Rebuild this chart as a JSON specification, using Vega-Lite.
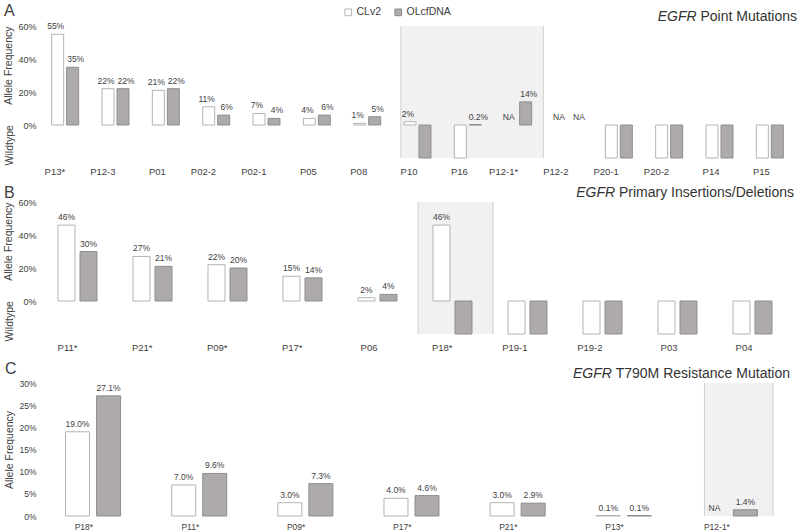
{
  "$schema": "https://vega.github.io/schema/vega-lite/v6.json",
  "background": "white",
  "padding": {"left": 3, "top": 3, "right": 3, "bottom": 0},
  "datasets": {
    "a": [
      {"cat": "P13*", "series": "CLv2", "value": 55, "label": "55%"},
      {"cat": "P13*", "series": "OLcfDNA", "value": 35, "label": "35%"},
      {"cat": "P12-3", "series": "CLv2", "value": 22, "label": "22%"},
      {"cat": "P12-3", "series": "OLcfDNA", "value": 22, "label": "22%"},
      {"cat": "P01", "series": "CLv2", "value": 21, "label": "21%"},
      {"cat": "P01", "series": "OLcfDNA", "value": 22, "label": "22%"},
      {"cat": "P02-2", "series": "CLv2", "value": 11, "label": "11%"},
      {"cat": "P02-2", "series": "OLcfDNA", "value": 6, "label": "6%"},
      {"cat": "P02-1", "series": "CLv2", "value": 7, "label": "7%"},
      {"cat": "P02-1", "series": "OLcfDNA", "value": 4, "label": "4%"},
      {"cat": "P05", "series": "CLv2", "value": 4, "label": "4%"},
      {"cat": "P05", "series": "OLcfDNA", "value": 6, "label": "6%"},
      {"cat": "P08", "series": "CLv2", "value": 1, "label": "1%"},
      {"cat": "P08", "series": "OLcfDNA", "value": 5, "label": "5%"},
      {"cat": "P10", "series": "CLv2", "value": 2, "label": "2%"},
      {"cat": "P10", "series": "OLcfDNA", "value": -20, "label": ""},
      {"cat": "P16", "series": "CLv2", "value": -20, "label": ""},
      {"cat": "P16", "series": "OLcfDNA", "value": 0.2, "label": "0.2%"},
      {"cat": "P12-1*", "series": "CLv2", "value": 0, "label": "NA"},
      {"cat": "P12-1*", "series": "OLcfDNA", "value": 14, "label": "14%"},
      {"cat": "P12-2", "series": "CLv2", "value": 0, "label": "NA"},
      {"cat": "P12-2", "series": "OLcfDNA", "value": 0, "label": "NA"},
      {"cat": "P20-1", "series": "CLv2", "value": -20, "label": ""},
      {"cat": "P20-1", "series": "OLcfDNA", "value": -20, "label": ""},
      {"cat": "P20-2", "series": "CLv2", "value": -20, "label": ""},
      {"cat": "P20-2", "series": "OLcfDNA", "value": -20, "label": ""},
      {"cat": "P14", "series": "CLv2", "value": -20, "label": ""},
      {"cat": "P14", "series": "OLcfDNA", "value": -20, "label": ""},
      {"cat": "P15", "series": "CLv2", "value": -20, "label": ""},
      {"cat": "P15", "series": "OLcfDNA", "value": -20, "label": ""}
    ],
    "b": [
      {"cat": "P11*", "series": "CLv2", "value": 46, "label": "46%"},
      {"cat": "P11*", "series": "OLcfDNA", "value": 30, "label": "30%"},
      {"cat": "P21*", "series": "CLv2", "value": 27, "label": "27%"},
      {"cat": "P21*", "series": "OLcfDNA", "value": 21, "label": "21%"},
      {"cat": "P09*", "series": "CLv2", "value": 22, "label": "22%"},
      {"cat": "P09*", "series": "OLcfDNA", "value": 20, "label": "20%"},
      {"cat": "P17*", "series": "CLv2", "value": 15, "label": "15%"},
      {"cat": "P17*", "series": "OLcfDNA", "value": 14, "label": "14%"},
      {"cat": "P06", "series": "CLv2", "value": 2, "label": "2%"},
      {"cat": "P06", "series": "OLcfDNA", "value": 4, "label": "4%"},
      {"cat": "P18*", "series": "CLv2", "value": 46, "label": "46%"},
      {"cat": "P18*", "series": "OLcfDNA", "value": -20, "label": ""},
      {"cat": "P19-1", "series": "CLv2", "value": -20, "label": ""},
      {"cat": "P19-1", "series": "OLcfDNA", "value": -20, "label": ""},
      {"cat": "P19-2", "series": "CLv2", "value": -20, "label": ""},
      {"cat": "P19-2", "series": "OLcfDNA", "value": -20, "label": ""},
      {"cat": "P03", "series": "CLv2", "value": -20, "label": ""},
      {"cat": "P03", "series": "OLcfDNA", "value": -20, "label": ""},
      {"cat": "P04", "series": "CLv2", "value": -20, "label": ""},
      {"cat": "P04", "series": "OLcfDNA", "value": -20, "label": ""}
    ],
    "c": [
      {"cat": "P18*", "series": "CLv2", "value": 19.0, "label": "19.0%"},
      {"cat": "P18*", "series": "OLcfDNA", "value": 27.1, "label": "27.1%"},
      {"cat": "P11*", "series": "CLv2", "value": 7.0, "label": "7.0%"},
      {"cat": "P11*", "series": "OLcfDNA", "value": 9.6, "label": "9.6%"},
      {"cat": "P09*", "series": "CLv2", "value": 3.0, "label": "3.0%"},
      {"cat": "P09*", "series": "OLcfDNA", "value": 7.3, "label": "7.3%"},
      {"cat": "P17*", "series": "CLv2", "value": 4.0, "label": "4.0%"},
      {"cat": "P17*", "series": "OLcfDNA", "value": 4.6, "label": "4.6%"},
      {"cat": "P21*", "series": "CLv2", "value": 3.0, "label": "3.0%"},
      {"cat": "P21*", "series": "OLcfDNA", "value": 2.9, "label": "2.9%"},
      {"cat": "P13*", "series": "CLv2", "value": 0.1, "label": "0.1%"},
      {"cat": "P13*", "series": "OLcfDNA", "value": 0.1, "label": "0.1%"},
      {"cat": "P12-1*", "series": "CLv2", "value": 0, "label": "NA"},
      {"cat": "P12-1*", "series": "OLcfDNA", "value": 1.4, "label": "1.4%"}
    ]
  },
  "vconcat": [
    {
      "width": 755,
      "height": 132,
      "title": {"text": "A", "offset": -9},
      "data": {"name": "a"},
      "layer": [
        {
          "data": {"values": [{}]},
          "mark": {"type": "rect", "fill": "#000000", "opacity": 0.055},
          "encoding": {
            "x": {"datum": "P10", "type": "nominal", "bandPosition": 0.17, "title": null},
            "x2": {"datum": "P12-1*", "bandPosition": 1},
            "y": {"datum": 60, "type": "quantitative", "axis": null},
            "y2": {"datum": -20}
          }
        },
        {
          "data": {"values": [{}]},
          "mark": {"type": "rule", "color": "#cfcfcf"},
          "encoding": {
            "x": {"datum": "P10", "type": "nominal", "bandPosition": 0.17, "title": null},
            "y": {"datum": 60, "type": "quantitative", "axis": null},
            "y2": {"datum": -20}
          }
        },
        {
          "data": {"values": [{}]},
          "mark": {"type": "rule", "color": "#cfcfcf"},
          "encoding": {
            "x": {"datum": "P12-1*", "type": "nominal", "bandPosition": 1, "title": null},
            "y": {"datum": 60, "type": "quantitative", "axis": null},
            "y2": {"datum": -20}
          }
        },
        {
          "transform": [{"filter": "datum.label != 'NA'"}],
          "mark": {"type": "bar", "strokeWidth": 1},
          "encoding": {
            "x": {"field": "cat", "type": "nominal", "title": null,
              "scale": {"domain": ["P13*", "P12-3", "P01", "P02-2", "P02-1", "P05", "P08", "P10", "P16", "P12-1*", "P12-2", "P20-1", "P20-2", "P14", "P15"], "paddingInner": 0, "paddingOuter": 0},
              "axis": {"labelAngle": 0, "labelPadding": 13, "labelFontSize": 9.5, "grid": false}},
            "xOffset": {"field": "series", "type": "nominal", "scale": {"domain": ["CLv2", "OLcfDNA"], "paddingInner": 0.2, "paddingOuter": 0.778}},
            "y": {"field": "value", "type": "quantitative", "scale": {"domain": [-20, 60], "nice": false},
              "axis": {"values": [-20, 0, 20, 40, 60], "labelExpr": "datum.value < 0 ? '' : datum.value + '%'", "title": "Allele Frequency", "titleAnchor": "end", "titlePadding": 4, "labelPadding": 4,
                "gridColor": {"condition": {"test": "datum.value === 0", "value": "#bdbdbd"}, "value": "#ececec"}}},
            "fill": {"field": "series", "type": "nominal", "scale": {"domain": ["CLv2", "OLcfDNA"], "range": ["#ffffff", "#aeaaaa"]}, "legend": {"title": null}},
            "stroke": {"field": "series", "type": "nominal", "scale": {"domain": ["CLv2", "OLcfDNA"], "range": ["#b3b3b3", "#8e8e8e"]}, "legend": {"title": null}}
          }
        },
        {
          "transform": [{"filter": "datum.series == 'CLv2'"}],
          "mark": {"type": "text", "baseline": "bottom", "dy": -3, "dx": -2, "fontSize": 8.5},
          "encoding": {
            "x": {"field": "cat", "type": "nominal", "title": null},
            "xOffset": {"field": "series", "type": "nominal"},
            "y": {"field": "value", "type": "quantitative",
              "axis": {"orient": "left", "values": [-12], "labelExpr": "'Wildtype'", "labelAngle": -90, "labelAlign": "center", "labelBaseline": "bottom", "labelPadding": 26, "labelFontSize": 10.5, "grid": false, "title": null}},
            "text": {"field": "label"}
          }
        },
        {
          "transform": [{"filter": "datum.series == 'OLcfDNA'"}],
          "mark": {"type": "text", "baseline": "bottom", "dy": -3, "dx": 3, "fontSize": 8.5},
          "encoding": {
            "x": {"field": "cat", "type": "nominal", "title": null},
            "xOffset": {"field": "series", "type": "nominal"},
            "y": {"field": "value", "type": "quantitative", "axis": null},
            "text": {"field": "label"}
          }
        },
        {
          "data": {"values": [{}]},
          "mark": {"type": "text", "text": " Point Mutations", "align": "right", "baseline": "alphabetic", "fontSize": 14, "dx": 2, "dy": -5, "color": "#333333"},
          "encoding": {
            "x": {"datum": "P15", "type": "nominal", "bandPosition": 1, "title": null},
            "y": {"datum": 60, "type": "quantitative", "axis": null}
          }
        },
        {
          "data": {"values": [{}]},
          "mark": {"type": "text", "text": "EGFR", "fontStyle": "italic", "align": "right", "baseline": "alphabetic", "fontSize": 14, "dx": -98.4, "dy": -5, "color": "#333333"},
          "encoding": {
            "x": {"datum": "P15", "type": "nominal", "bandPosition": 1, "title": null},
            "y": {"datum": 60, "type": "quantitative", "axis": null}
          }
        }
      ],
      "resolve": {"axis": {"y": "independent"}}
    },
    {
      "width": 750,
      "height": 132,
      "title": {"text": "B", "offset": -15},
      "data": {"name": "b"},
      "layer": [
        {
          "data": {"values": [{}]},
          "mark": {"type": "rect", "fill": "#000000", "opacity": 0.055},
          "encoding": {
            "x": {"datum": "P18*", "type": "nominal", "bandPosition": 0.04, "title": null},
            "x2": {"datum": "P18*", "bandPosition": 1.04},
            "y": {"datum": 60, "type": "quantitative", "axis": null},
            "y2": {"datum": -20}
          }
        },
        {
          "data": {"values": [{}]},
          "mark": {"type": "rule", "color": "#cfcfcf"},
          "encoding": {
            "x": {"datum": "P18*", "type": "nominal", "bandPosition": 0.04, "title": null},
            "y": {"datum": 60, "type": "quantitative", "axis": null},
            "y2": {"datum": -20}
          }
        },
        {
          "data": {"values": [{}]},
          "mark": {"type": "rule", "color": "#cfcfcf"},
          "encoding": {
            "x": {"datum": "P18*", "type": "nominal", "bandPosition": 1.04, "title": null},
            "y": {"datum": 60, "type": "quantitative", "axis": null},
            "y2": {"datum": -20}
          }
        },
        {
          "transform": [{"filter": "datum.label != 'NA'"}],
          "mark": {"type": "bar", "strokeWidth": 1},
          "encoding": {
            "x": {"field": "cat", "type": "nominal", "title": null,
              "scale": {"domain": ["P11*", "P21*", "P09*", "P17*", "P06", "P18*", "P19-1", "P19-2", "P03", "P04"], "paddingInner": 0, "paddingOuter": 0},
              "axis": {"labelAngle": 0, "labelPadding": 13, "labelFontSize": 9.5, "grid": false}},
            "xOffset": {"field": "series", "type": "nominal", "scale": {"domain": ["CLv2", "OLcfDNA"], "paddingInner": 0.227, "paddingOuter": 0.818}},
            "y": {"field": "value", "type": "quantitative", "scale": {"domain": [-20, 60], "nice": false},
              "axis": {"values": [-20, 0, 20, 40, 60], "labelExpr": "datum.value < 0 ? '' : datum.value + '%'", "title": "Allele Frequency", "titleAnchor": "end", "titlePadding": 4, "labelPadding": 4,
                "gridColor": {"condition": {"test": "datum.value === 0", "value": "#bdbdbd"}, "value": "#ececec"}}},
            "fill": {"field": "series", "type": "nominal", "scale": {"domain": ["CLv2", "OLcfDNA"], "range": ["#ffffff", "#aeaaaa"]}, "legend": {"title": null}},
            "stroke": {"field": "series", "type": "nominal", "scale": {"domain": ["CLv2", "OLcfDNA"], "range": ["#b3b3b3", "#8e8e8e"]}, "legend": {"title": null}}
          }
        },
        {
          "mark": {"type": "text", "baseline": "bottom", "dy": -3, "fontSize": 8.5},
          "encoding": {
            "x": {"field": "cat", "type": "nominal", "title": null},
            "xOffset": {"field": "series", "type": "nominal"},
            "y": {"field": "value", "type": "quantitative",
              "axis": {"orient": "left", "values": [-12], "labelExpr": "'Wildtype'", "labelAngle": -90, "labelAlign": "center", "labelBaseline": "bottom", "labelPadding": 26, "labelFontSize": 10.5, "grid": false, "title": null}},
            "text": {"field": "label"}
          }
        },
        {
          "data": {"values": [{}]},
          "mark": {"type": "text", "text": " Primary Insertions/Deletions", "align": "right", "baseline": "alphabetic", "fontSize": 14, "dx": 4, "dy": -5, "color": "#333333"},
          "encoding": {
            "x": {"datum": "P04", "type": "nominal", "bandPosition": 1, "title": null},
            "y": {"datum": 60, "type": "quantitative", "axis": null}
          }
        },
        {
          "data": {"values": [{}]},
          "mark": {"type": "text", "text": "EGFR", "fontStyle": "italic", "align": "right", "baseline": "alphabetic", "fontSize": 14, "dx": -174.9, "dy": -5, "color": "#333333"},
          "encoding": {
            "x": {"datum": "P04", "type": "nominal", "bandPosition": 1, "title": null},
            "y": {"datum": 60, "type": "quantitative", "axis": null}
          }
        }
      ],
      "resolve": {"axis": {"y": "independent"}}
    },
    {
      "width": 743,
      "height": 133,
      "title": {"text": "C", "offset": -10},
      "data": {"name": "c"},
      "layer": [
        {
          "data": {"values": [{}]},
          "mark": {"type": "rect", "fill": "#000000", "opacity": 0.055},
          "encoding": {
            "x": {"datum": "P12-1*", "type": "nominal", "bandPosition": 0.26, "title": null},
            "x2": {"datum": "P12-1*", "bandPosition": 0.906},
            "y": {"datum": 30, "type": "quantitative", "axis": null},
            "y2": {"datum": 0}
          }
        },
        {
          "data": {"values": [{}]},
          "mark": {"type": "rule", "color": "#cfcfcf"},
          "encoding": {
            "x": {"datum": "P12-1*", "type": "nominal", "bandPosition": 0.26, "title": null},
            "y": {"datum": 30, "type": "quantitative", "axis": null},
            "y2": {"datum": 0}
          }
        },
        {
          "data": {"values": [{}]},
          "mark": {"type": "rule", "color": "#cfcfcf"},
          "encoding": {
            "x": {"datum": "P12-1*", "type": "nominal", "bandPosition": 0.906, "title": null},
            "y": {"datum": 30, "type": "quantitative", "axis": null},
            "y2": {"datum": 0}
          }
        },
        {
          "transform": [{"filter": "datum.label != 'NA'"}],
          "mark": {"type": "bar", "strokeWidth": 1},
          "encoding": {
            "x": {"field": "cat", "type": "nominal", "title": null,
              "scale": {"domain": ["P18*", "P11*", "P09*", "P17*", "P21*", "P13*", "P12-1*"], "paddingInner": 0, "paddingOuter": 0},
              "axis": {"labelAngle": 0, "labelPadding": 10, "labelFontSize": 8.5, "grid": false}},
            "xOffset": {"field": "series", "type": "nominal", "scale": {"domain": ["CLv2", "OLcfDNA"], "paddingInner": 0.226, "paddingOuter": 0.824}},
            "y": {"field": "value", "type": "quantitative", "scale": {"domain": [0, 30], "nice": false},
              "axis": {"values": [0, 5, 10, 15, 20, 25, 30], "labelExpr": "datum.value + '%'", "title": "Allele Frequency", "titlePadding": 4, "labelPadding": 4, "labelFontSize": 8.5, "gridColor": "#ececec"}},
            "fill": {"field": "series", "type": "nominal", "scale": {"domain": ["CLv2", "OLcfDNA"], "range": ["#ffffff", "#aeaaaa"]}, "legend": {"title": null}},
            "stroke": {"field": "series", "type": "nominal", "scale": {"domain": ["CLv2", "OLcfDNA"], "range": ["#b3b3b3", "#8e8e8e"]}, "legend": {"title": null}}
          }
        },
        {
          "mark": {"type": "text", "baseline": "bottom", "dy": -3, "fontSize": 8.5},
          "encoding": {
            "x": {"field": "cat", "type": "nominal", "title": null},
            "xOffset": {"field": "series", "type": "nominal"},
            "y": {"field": "value", "type": "quantitative", "axis": null},
            "text": {"field": "label"}
          }
        },
        {
          "data": {"values": [{}]},
          "mark": {"type": "text", "text": " T790M Resistance Mutation", "align": "right", "baseline": "alphabetic", "fontSize": 14, "dx": 7, "dy": -5, "color": "#333333"},
          "encoding": {
            "x": {"datum": "P12-1*", "type": "nominal", "bandPosition": 1, "title": null},
            "y": {"datum": 30, "type": "quantitative", "axis": null}
          }
        },
        {
          "data": {"values": [{}]},
          "mark": {"type": "text", "text": "EGFR", "fontStyle": "italic", "align": "right", "baseline": "alphabetic", "fontSize": 14, "dx": -171.2, "dy": -5, "color": "#333333"},
          "encoding": {
            "x": {"datum": "P12-1*", "type": "nominal", "bandPosition": 1, "title": null},
            "y": {"datum": 30, "type": "quantitative", "axis": null}
          }
        }
      ],
      "resolve": {"axis": {"y": "independent"}}
    }
  ],
  "spacing": 9,
  "resolve": {"scale": {"xOffset": "independent"}},
  "config": {
    "font": "Liberation Sans",
    "view": {"stroke": null},
    "axis": {"domain": false, "ticks": false, "labelColor": "#404040", "labelFontSize": 9, "titleColor": "#404040", "titleFontWeight": "normal", "titleFontSize": 10.5, "gridColor": "#ececec", "labelFont": "Liberation Sans", "titleFont": "Liberation Sans"},
    "legend": {"orient": "none", "legendX": 303, "legendY": -19, "direction": "horizontal", "symbolType": "square", "symbolSize": 45, "symbolStrokeWidth": 1, "labelFontSize": 10.5, "labelColor": "#404040", "columnPadding": 10, "labelOffset": 3},
    "title": {"font": "Liberation Sans", "fontWeight": "normal", "fontSize": 16, "color": "#404040", "anchor": "start", "frame": "bounds"},
    "text": {"font": "Liberation Sans", "color": "#404040"}
  }
}
